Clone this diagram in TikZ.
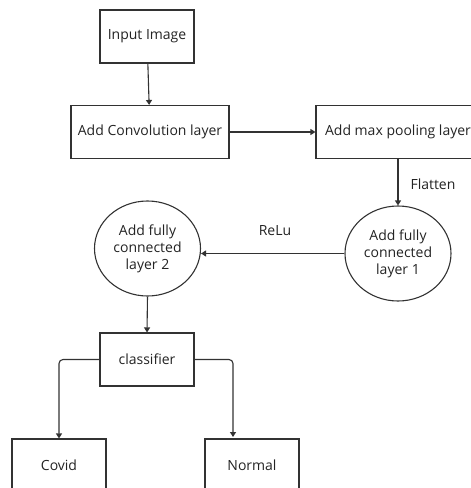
\documentclass[tikz,border=0pt]{standalone}
\usepackage{fontspec}
\setmainfont{Open Sans}
\usetikzlibrary{shapes.geometric, arrows.meta, positioning, calc}
\definecolor{linegray}{RGB}{50, 50, 50}
\definecolor{textgray}{RGB}{35, 35, 35}

\begin{document}
\begin{tikzpicture}[
    x=1pt, y=-1pt,
    stage/.style={
        rectangle,
        draw=linegray,
        line width=1.1pt,
        minimum width=#1,
        minimum height=53pt,
        text=textgray,
        align=center,
        inner sep=0pt,
        font=\fontsize{14}{17}\selectfont
    },
    stage/.default=94pt,
    fclayer/.style={
        ellipse,
        draw=linegray,
        line width=1.1pt,
        minimum width=106pt,
        minimum height=95pt,
        text=textgray,
        align=center,
        inner sep=0pt,
        font=\fontsize{14}{17}\selectfont
    },
    tag/.style={
        text=textgray,
        inner sep=0pt,
        font=\fontsize{14}{17}\selectfont
    },
    arrow/.style={
        -{Triangle[length=5pt,width=6pt]},
        line width=1.1pt,
        draw=linegray,
        #1
    }
]
\useasboundingbox (0,0) rectangle (471,488);

% Position the stages
\node[stage] (input) at (147,36.5) {Input Image};
\node[stage=158pt] (conv) at (150,132) {Add Convolution layer};
\node[stage=164pt] (pool) at (398,132) {Add max pooling layer};

% Fully connected layers
\node[fclayer] (fcone) at (398,253.5) {Add fully\\connected\\layer 1};
\node[fclayer] (fctwo) at (147.5,248.5) {Add fully\\connected\\layer 2};

% Classifier and outputs
\node[stage] (class) at (147,359.5) {classifier};
\node[stage] (covid) at (59,465.5) {Covid};
\node[stage] (normal) at (252,465.5) {Normal};
\coordinate (normaltop) at (233,437);

% Labels on the arrows
\node[tag] (flatten) at (433,184) {Flatten};
\node[tag] (relu) at (275,231) {ReLu};

% Draw the arrows
\draw[arrow] (input) -- (conv);
\draw[arrow] (conv) -- (pool);
\draw[arrow] (pool.south) -- (fcone.north);
\draw[arrow] (fcone.west) -- (fctwo.east |- fcone.west);
\draw[arrow] (fctwo.south) -- (class.north);
\draw[arrow, rounded corners=4pt] (class.west) -| (covid.north);
\draw[arrow, rounded corners=4pt] (class.east) -| (normaltop);

\end{tikzpicture}
\end{document}
